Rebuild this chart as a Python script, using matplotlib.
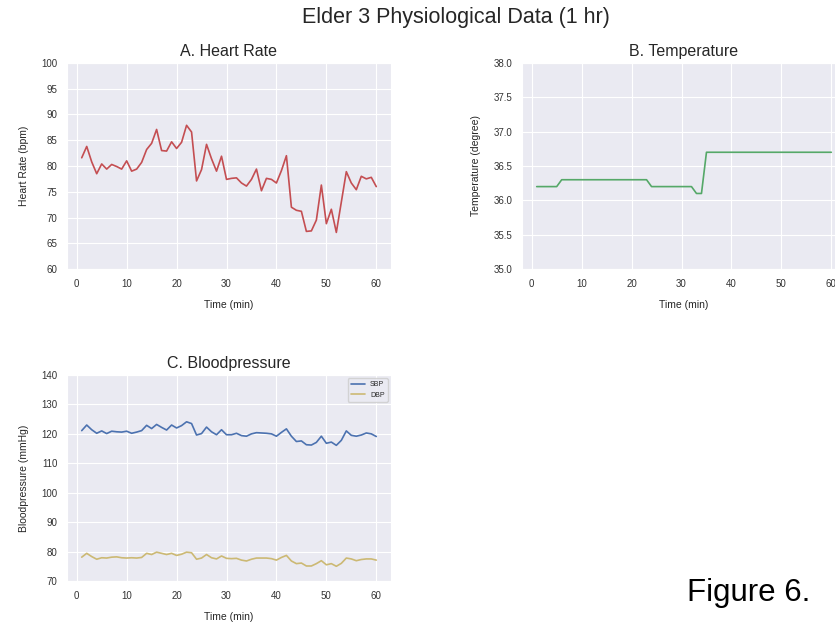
import numpy as np
import matplotlib
matplotlib.use("Agg")
import matplotlib.pyplot as plt
import seaborn as sns

sns.set_style("darkgrid")
plt.rcParams['font.family'] = ['Liberation Sans', 'DejaVu Sans']

# data
minutes = list(range(1, 61))
heart_rate = [81.6, 83.8, 80.8, 78.5, 80.4, 79.4, 80.3, 79.9, 79.4, 81.0,
              79.0, 79.4, 80.7, 83.2, 84.4, 87.1, 83.0, 82.9, 84.7, 83.4,
              84.6, 87.9, 86.6, 77.1, 79.3, 84.2, 81.4, 79.0, 81.9, 77.4,
              77.6, 77.7, 76.7, 76.1, 77.4, 79.4, 75.2, 77.6, 77.4, 76.7,
              79.1, 82.0, 72.0, 71.4, 71.2, 67.3, 67.4, 69.5, 76.3, 68.8,
              71.6, 67.1, 73.0, 78.9, 76.7, 75.4, 78.0, 77.5, 77.8, 76.0]
temperature = [36.2] * 5 + [36.3] * 18 + [36.2] * 9 + [36.1] * 2 + [36.7] * 26
sbp = [121.1, 123.0, 121.4, 120.2, 121.0, 120.1, 120.9, 120.7, 120.6, 120.9,
       120.2, 120.6, 121.1, 122.9, 121.8, 123.2, 122.2, 121.3, 123.0, 122.0,
       122.8, 124.1, 123.5, 119.6, 120.1, 122.3, 120.7, 119.7, 121.4, 119.7,
       119.7, 120.2, 119.4, 119.2, 120.0, 120.4, 120.3, 120.2, 120.0, 119.2,
       120.5, 121.7, 119.2, 117.4, 117.6, 116.3, 116.2, 117.1, 119.2, 116.8,
       117.2, 116.1, 117.8, 121.0, 119.5, 119.2, 119.6, 120.3, 120.0, 119.1]
dbp = [78.1, 79.4, 78.3, 77.4, 77.9, 77.8, 78.1, 78.2, 77.9, 77.8,
       77.9, 77.8, 78.0, 79.4, 79.0, 79.8, 79.4, 79.0, 79.4, 78.7,
       79.1, 79.8, 79.6, 77.4, 77.8, 79.0, 77.9, 77.5, 78.5, 77.7,
       77.6, 77.7, 77.1, 76.8, 77.4, 77.8, 77.8, 77.8, 77.6, 77.1,
       78.0, 78.7, 76.8, 75.9, 76.1, 75.1, 75.1, 75.9, 76.9, 75.5,
       75.9, 75.0, 76.0, 77.8, 77.5, 76.9, 77.3, 77.5, 77.5, 77.1]

W, H = 835, 623
fig = plt.figure(figsize=(W / 100, H / 100), dpi=100)

def box(x0, y0, x1, y1):
    return [x0 / W, 1 - y1 / H, (x1 - x0) / W, (y1 - y0) / H]

ax_a = fig.add_axes(box(67, 63, 391, 269))
ax_b = fig.add_axes(box(522, 63, 846, 269))
ax_c = fig.add_axes(box(67, 375, 391, 581))

tick_fs = 7
lab_fs = 7.5
title_fs = 11.5

ax_a.plot(minutes, heart_rate, color="#C44E52", lw=1.2)
ax_a.set_ylim(60, 100)
ax_a.set_title("A. Heart Rate", fontsize=title_fs, pad=5)
ax_a.set_ylabel("Heart Rate (bpm)", fontsize=lab_fs, labelpad=9)
ax_a.set_xlabel("Time (min)", fontsize=lab_fs, labelpad=8)

ax_b.plot(minutes, temperature, color="#55A868", lw=1.2)
ax_b.set_ylim(35, 38)
ax_b.set_yticks(np.arange(35, 38.01, 0.5))
ax_b.yaxis.set_major_formatter(matplotlib.ticker.FormatStrFormatter("%.1f"))
ax_b.set_title("B. Temperature", fontsize=title_fs, pad=5)
ax_b.set_ylabel("Temperature (degree)", fontsize=lab_fs, labelpad=9)
ax_b.set_xlabel("Time (min)", fontsize=lab_fs, labelpad=8)

ax_c.plot(minutes, sbp, color="#4C72B0", lw=1.2, label="SBP")
ax_c.plot(minutes, dbp, color="#CCB974", lw=1.2, label="DBP")
ax_c.set_ylim(70, 140)
ax_c.set_title("C. Bloodpressure", fontsize=title_fs, pad=5)
ax_c.set_ylabel("Bloodpressure (mmHg)", fontsize=lab_fs, labelpad=9)
ax_c.set_xlabel("Time (min)", fontsize=lab_fs, labelpad=8)
ax_c.legend(loc="upper right", fontsize=5, frameon=True)

for ax in (ax_a, ax_b, ax_c):
    ax.set_xticks(range(0, 61, 10))
    ax.tick_params(labelsize=tick_fs, labelcolor="#333333")

fig.suptitle("Elder 3 Physiological Data (1 hr)", fontsize=15.5, y=1 - 18 / H, va="center", x=456 / W)
fig.text(749 / W, 1 - 593 / H, "Figure 6.", fontsize=22.5, ha="center", va="center", color="black")

fig.savefig("out.png", dpi=100, facecolor="white")
